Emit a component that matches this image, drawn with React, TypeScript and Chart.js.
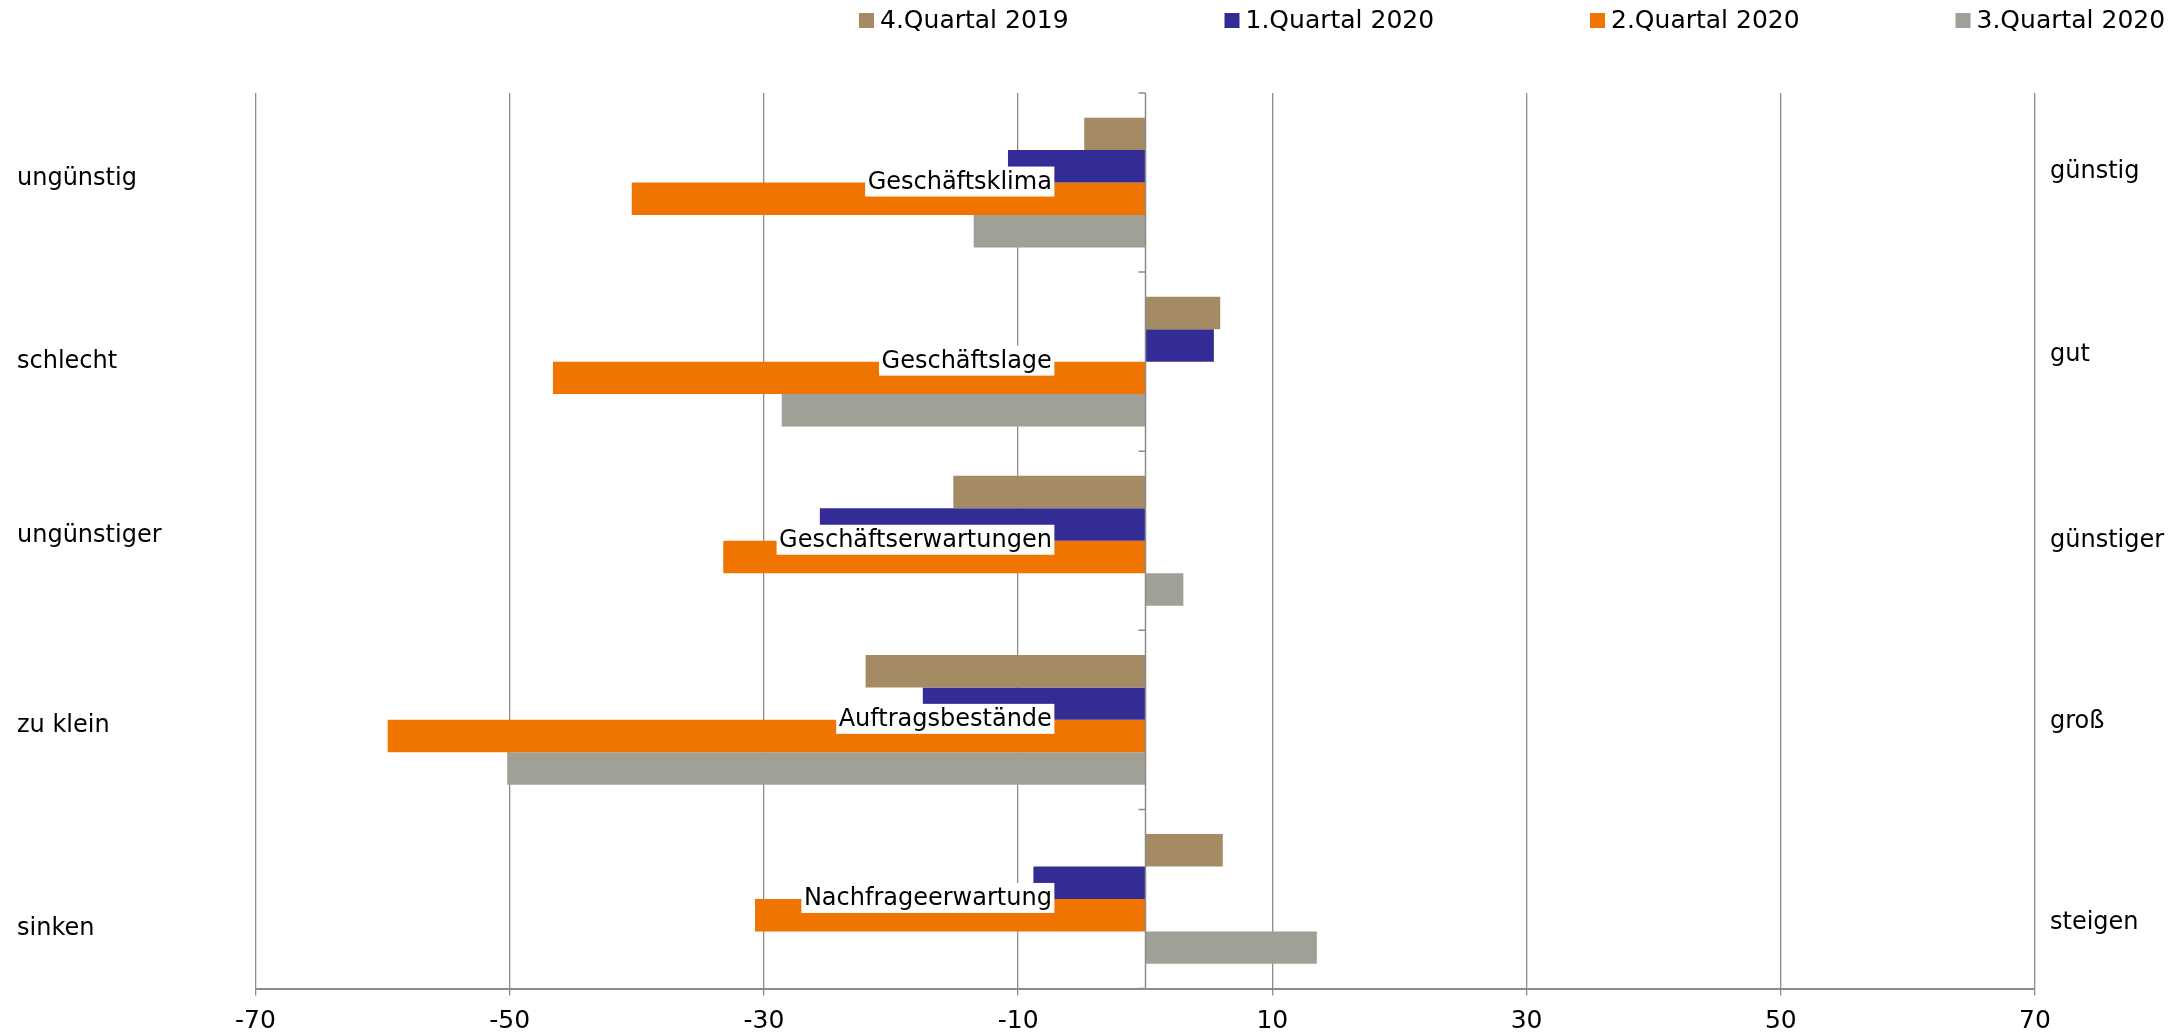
import React, { useEffect, useRef } from "react";
import { Chart, registerables } from "chart.js";

Chart.register(...registerables);

const categories = ["Geschäftsklima", "Geschäftslage", "Geschäftserwartungen", "Auftragsbestände", "Nachfrageerwartung"];
const leftLabels = ["ungünstig", "schlecht", "ungünstiger", "zu klein", "sinken"];
const rightLabels = ["günstig", "gut", "günstiger", "groß", "steigen"];
const seriesNames = ["4.Quartal 2019", "1.Quartal 2020", "2.Quartal 2020", "3.Quartal 2020"];
const q4_2019 = [-4.8, 5.9, -15.1, -22.0, 6.1];
const q1_2020 = [-10.8, 5.4, -25.6, -17.5, -8.8];
const q2_2020 = [-40.4, -46.6, -33.2, -59.6, -30.7];
const q3_2020 = [-13.5, -28.6, 3.0, -50.2, 13.5];
const xTicks = [-70, -50, -30, -10, 10, 30, 50, 70];

const seriesValues = [q4_2019, q1_2020, q2_2020, q3_2020];
const seriesColors = ["#A58B64", "#342C95", "#F07400", "#A0A096"];

const FONT = '"DejaVu Sans", Verdana, sans-serif';
const LEFT_DY = [-4, 0, -5, 6, 30];
const RIGHT_DY = [-11, -7, 0, 2, 24];

const zeroAxisPlugin = {
  id: "zeroAxis",
  afterDatasetsDraw(chart: any) {
    const { ctx, scales } = chart;
    const xs = scales.x;
    const ys = scales.y;
    const x0 = Math.round(xs.getPixelForValue(0)) + 0.5;
    ctx.save();
    ctx.strokeStyle = "#8c8c8c";
    ctx.lineWidth = 1.5;
    ctx.beginPath();
    ctx.moveTo(x0, chart.chartArea.top);
    ctx.lineTo(x0, chart.chartArea.bottom);
    for (let i = 0; i <= categories.length; i++) {
      const y = ys.getPixelForValue(i - 0.5);
      ctx.moveTo(x0 - 7, y);
      ctx.lineTo(x0, y);
    }
    ctx.stroke();
    ctx.restore();
  },
};

const innerLabelPlugin = {
  id: "innerLabels",
  afterDatasetsDraw(chart: any) {
    const { ctx, scales } = chart;
    const xs = scales.x;
    const ys = scales.y;
    ctx.save();
    ctx.font = `24px ${FONT}`;
    ctx.textBaseline = "middle";
    ctx.textAlign = "right";
    const right = xs.getPixelForValue(-7.15);
    categories.forEach((c, i) => {
      const w = ctx.measureText(c).width;
      const yc = ys.getPixelForValue(i) - 1;
      ctx.fillStyle = "#ffffff";
      ctx.fillRect(right - w - 5, yc - 15, w + 5, 30);
      ctx.fillStyle = "#000000";
      ctx.fillText(c, right - 2.5, yc + 1);
    });
    ctx.restore();
  },
};

const sideLabelPlugin = {
  id: "sideLabels",
  afterDraw(chart: any) {
    const { ctx, scales } = chart;
    const xs = scales.x;
    const ys = scales.y;
    ctx.save();
    ctx.font = `24px ${FONT}`;
    ctx.textBaseline = "middle";
    ctx.textAlign = "left";
    ctx.fillStyle = "#000000";
    const rx = xs.getPixelForValue(70) + 15;
    for (let i = 0; i < categories.length; i++) {
      const yc = ys.getPixelForValue(i);
      ctx.fillText(leftLabels[i], 17, yc + LEFT_DY[i]);
      ctx.fillText(rightLabels[i], rx, yc + RIGHT_DY[i]);
    }
    ctx.restore();
  },
};

const legendPlugin = {
  id: "customLegend",
  afterDraw(chart: any) {
    const { ctx } = chart;
    ctx.save();
    ctx.font = `25px ${FONT}`;
    ctx.textBaseline = "middle";
    ctx.textAlign = "left";
    chart.data.datasets.forEach((ds: any, i: number) => {
      const x = 859 + i * 365.5;
      ctx.fillStyle = ds.backgroundColor;
      ctx.fillRect(x, 13, 15, 15);
      ctx.fillStyle = "#000000";
      ctx.fillText(ds.label, x + 21, 21);
    });
    ctx.restore();
  },
};

export default function App() {
  const ref = useRef<HTMLCanvasElement | null>(null);

  useEffect(() => {
    if (!ref.current) return;
    Chart.defaults.font.family = FONT;
    const chart = new Chart(ref.current, {
      type: "bar",
      data: {
        labels: categories,
        datasets: seriesNames.map((name, i) => ({
          label: name,
          data: seriesValues[i],
          backgroundColor: seriesColors[i],
          borderWidth: 0,
          categoryPercentage: 0.725,
          barPercentage: 1.0,
        })),
      },
      options: {
        indexAxis: "y",
        responsive: false,
        animation: false,
        layout: { padding: { top: 93, left: 255.5, right: 149, bottom: 0 } },
        plugins: {
          legend: { display: false },
          tooltip: { enabled: false },
          title: { display: false },
        },
        scales: {
          x: {
            type: "linear",
            min: -70,
            max: 70,
            afterBuildTicks: (s: any) => {
              s.ticks = xTicks.map((v) => ({ value: v }));
            },
            afterFit: (s: any) => {
              s.height = 43.5;
            },
            grid: { color: "#8c8c8c", lineWidth: 1.3, tickLength: 7, drawTicks: true },
            border: { color: "#8c8c8c", width: 2 },
            ticks: {
              font: { family: FONT, size: 25 },
              color: "#000000",
              padding: 11,
              maxRotation: 0,
              autoSkip: false,
            },
          },
          y: {
            type: "category",
            display: false,
            offset: true,
          },
        },
      },
      plugins: [zeroAxisPlugin, innerLabelPlugin, sideLabelPlugin, legendPlugin],
    } as any);
    return () => chart.destroy();
  }, []);

  return (
    <div style={{ position: "fixed", left: 0, top: 0, width: 2184, height: 1032, background: "#ffffff" }}>
      <canvas ref={ref} width={2184} height={1032} style={{ display: "block", width: 2184, height: 1032 }} />
    </div>
  );
}
